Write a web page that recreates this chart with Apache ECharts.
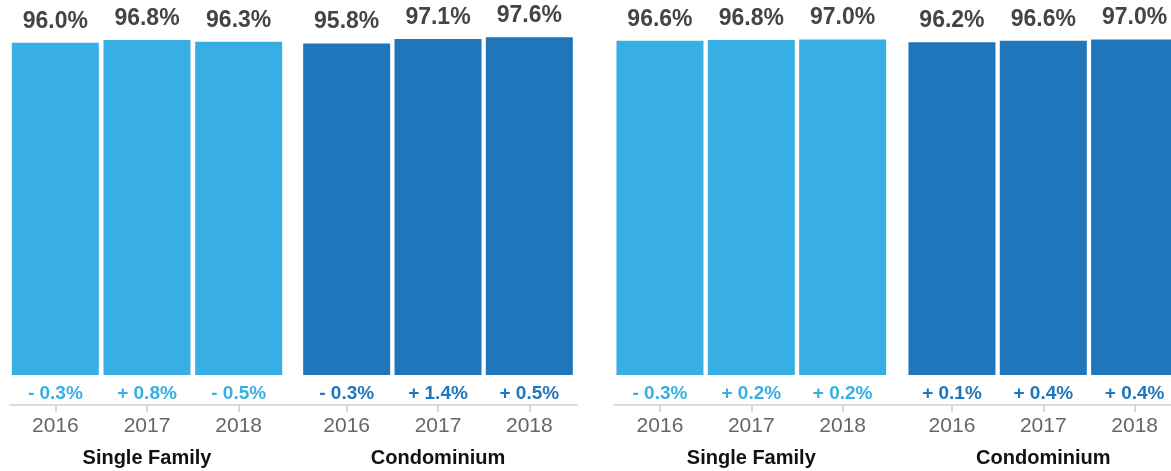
<!DOCTYPE html>
<html>
<head>
<meta charset="utf-8">
<script src="https://cdn.jsdelivr.net/npm/echarts@6/dist/echarts.min.js"></script>
<style>
  html, body { margin: 0; padding: 0; background: #fff; }
  #chart { width: 1171px; height: 471px; }
</style>
</head>
<body>
<div id="chart"></div>
<script>
const years = ['2016', '2017', '2018']
const groupNames = ['Single Family', 'Condominium', 'Single Family', 'Condominium']

const sfLeft = [96.0, 96.8, 96.3]
const condoLeft = [95.8, 97.1, 97.6]
const sfRight = [96.6, 96.8, 97.0]
const condoRight = [96.2, 96.6, 97.0]

const sfLeftChange = [-0.3, 0.8, -0.5]
const condoLeftChange = [-0.3, 1.4, 0.5]
const sfRightChange = [-0.3, 0.2, 0.2]
const condoRightChange = [0.1, 0.4, 0.4]

const LIGHT = '#38afe4'
const DARK = '#1f76bb'
const FONT = "'Liberation Sans', Arial, sans-serif"

const values = [sfLeft, condoLeft, sfRight, condoRight]
const changes = [sfLeftChange, condoLeftChange, sfRightChange, condoRightChange]
const colors = [LIGHT, DARK, LIGHT, DARK]

// grid placement for the four groups of bars, then two grids for the long axis lines
const gridBoxes = [
  { left: 9.5, right: 886.5 },
  { left: 301, right: 596 },
  { left: 614.3, right: 282.7 },
  { left: 906.3, right: -9.3 }
]
const lineBoxes = [
  { left: 10, right: 594 },
  { left: 614, right: 0 }
]

const fmtChange = (v) => (v < 0 ? '- ' : '+ ') + Math.abs(v).toFixed(1) + '%'

const grid = []
const xAxis = []
const yAxis = []
const series = []

gridBoxes.forEach((b, i) => {
  grid.push({ left: b.left, right: b.right, top: 29, bottom: 96, outerBoundsMode: 'none' })
  // years + group name
  xAxis.push({
    type: 'category',
    gridIndex: i,
    data: years,
    position: 'bottom',
    offset: 30,
    axisLine: { show: false, onZero: false },
    axisTick: { show: true, alignWithLabel: true, length: 7, lineStyle: { color: '#d6d6d6', width: 2 } },
    axisLabel: { color: '#666', fontSize: 21, fontFamily: FONT, margin: 11 },
    name: groupNames[i],
    nameLocation: 'middle',
    nameGap: 43,
    nameTextStyle: { color: '#111', fontSize: 20, fontWeight: 'bold', fontFamily: FONT }
  })
  // change labels just under the bars
  xAxis.push({
    type: 'category',
    gridIndex: i,
    data: changes[i].map(fmtChange),
    position: 'bottom',
    offset: 0,
    axisLine: { show: false, onZero: false },
    axisTick: { show: false },
    axisLabel: { color: colors[i], fontSize: 19, fontWeight: 'bold', fontFamily: FONT, margin: 9 }
  })
  yAxis.push({ type: 'value', gridIndex: i, min: 0, max: 100, show: false })
  series.push({
    type: 'bar',
    xAxisIndex: i * 2,
    yAxisIndex: i,
    data: values[i],
    barWidth: 87,
    itemStyle: { color: colors[i] },
    label: {
      show: true,
      position: 'top',
      distance: 10,
      color: '#444',
      fontSize: 23,
      fontWeight: 'bold',
      fontFamily: FONT,
      formatter: (p) => p.value.toFixed(1) + '%'
    }
  })
})

lineBoxes.forEach((b, j) => {
  const gi = gridBoxes.length + j
  grid.push({ left: b.left, right: b.right, top: 29, bottom: 96, outerBoundsMode: 'none' })
  xAxis.push({
    type: 'value',
    gridIndex: gi,
    min: 0,
    max: 1,
    position: 'bottom',
    offset: 30,
    axisLine: { show: true, onZero: false, lineStyle: { color: '#dcdcdc', width: 2 } },
    axisTick: { show: false },
    axisLabel: { show: false },
    splitLine: { show: false }
  })
  yAxis.push({ type: 'value', gridIndex: gi, min: 0, max: 1, show: false })
})

const chart = echarts.init(document.getElementById('chart'))
chart.setOption({
  animation: false,
  grid,
  xAxis,
  yAxis,
  series
})
</script>
</body>
</html>
